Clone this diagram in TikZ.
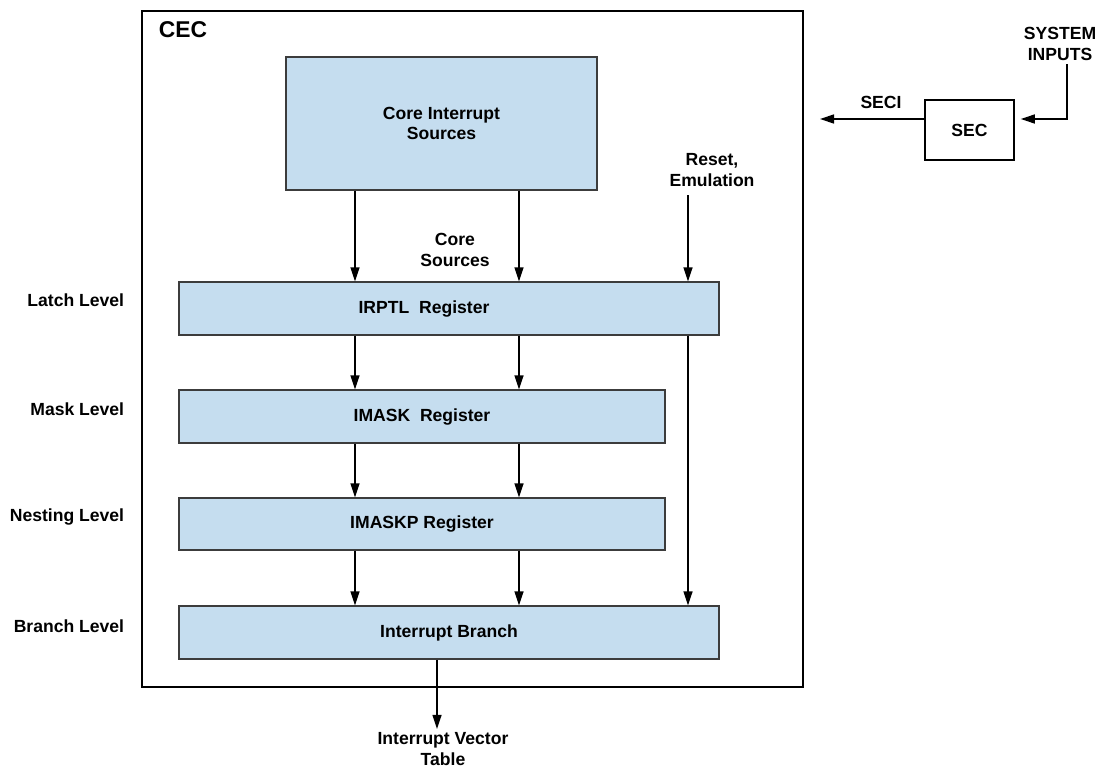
\documentclass[tikz,border=0pt]{standalone}
\usepackage{fontspec}
\setmainfont{Liberation Sans}
\usetikzlibrary{arrows.meta,positioning,calc}
\definecolor{regblue}{RGB}{197,221,239}
\definecolor{regedge}{RGB}{60,60,60}
\tikzset{
    txt/.style={font=\fontsize{10}{11.5}\selectfont\bfseries, align=center, inner sep=2pt},
    reg/.style={rectangle, draw=regedge, line width=0.7pt, fill=regblue, txt},
    line/.style={draw, line width=0.8pt, -{Triangle[length=2.8mm,width=1.8mm]}},
    level/.style={txt, anchor=east}
}
\begin{document}
\begin{tikzpicture}[x=0.02cm, y=-0.02cm]
    \useasboundingbox (0,0) rectangle (1098,767);

    % CEC frame
    \draw [line width=1.1pt] (142,11) rectangle (803,687);
    \node [txt, font=\fontsize{13}{15}\selectfont\bfseries] (cec) at (183,30) {CEC};

    % Registers
    \node [reg, minimum width=6.22cm, minimum height=2.66cm] (core) at (441.5,123.5) {Core Interrupt\\Sources};
    \node [reg, minimum width=10.8cm, minimum height=1.06cm,
           label={[txt, xshift=-0.5cm]center:IRPTL\ \ Register}] (irptl) at (449,308.5) {};
    \node [reg, minimum width=9.72cm, minimum height=1.06cm] (imask) at (422,416.5) {IMASK\ \ Register};
    \node [reg, minimum width=9.72cm, minimum height=1.04cm] (imaskp) at (422,524) {IMASKP Register};
    \node [reg, minimum width=10.8cm, minimum height=1.06cm] (branch) at (449,632.5) {Interrupt Branch};

    % Level names
    \node [level] (latch) at (128,300) {Latch Level};
    \node [level] (mask) at (128,409) {Mask Level};
    \node [level] (nest) at (128,517) {Nesting Level};
    \node [level] (brlev) at (128,626) {Branch Level};

    % Column positions
    \coordinate (colA) at (355,0);
    \coordinate (colB) at (519,0);
    \coordinate (colC) at (688,0);
    \coordinate (colD) at (437,0);

    % Core sources
    \node [txt] (coresrc) at (455,250) {Core\\Sources};
    \node [txt] (reset) at (712,170) {Reset,\\Emulation};
    \path [line] (core.south -| colA) -- (irptl.north -| colA);
    \path [line] (core.south -| colB) -- (irptl.north -| colB);
    \path [line] ([yshift=-0.1cm]reset.south -| colC) -- (irptl.north -| colC);

    % Down the levels
    \foreach \col in {colA,colB} {
        \path [line] (irptl.south -| \col) -- (imask.north -| \col);
        \path [line] (imask.south -| \col) -- (imaskp.north -| \col);
        \path [line] (imaskp.south -| \col) -- (branch.north -| \col);
    }
    \path [line] (irptl.south -| colC) -- (branch.north -| colC);

    % Vector table
    \node [txt] (ivt) at (443,749) {Interrupt Vector\\Table};
    \path [line] (branch.south -| colD) -- (ivt.north -| colD);

    % SEC
    \node [txt, draw, line width=0.9pt, minimum width=1.78cm, minimum height=1.2cm] (sec) at (969.5,130) {SEC};
    \coordinate (seciend) at (820,119);
    \node [txt] (seci) at (881,102) {SECI};
    \path [line] (sec.west |- seciend) -- (seciend);
    \node [txt] (sysin) at (1060,44) {SYSTEM\\INPUTS};
    \coordinate (sysbend) at (1067,119);
    \path [line, shorten >=0.12cm] (sysin.south -| sysbend) -- (sysbend) -- (sec.east |- seciend);
\end{tikzpicture}
\end{document}
